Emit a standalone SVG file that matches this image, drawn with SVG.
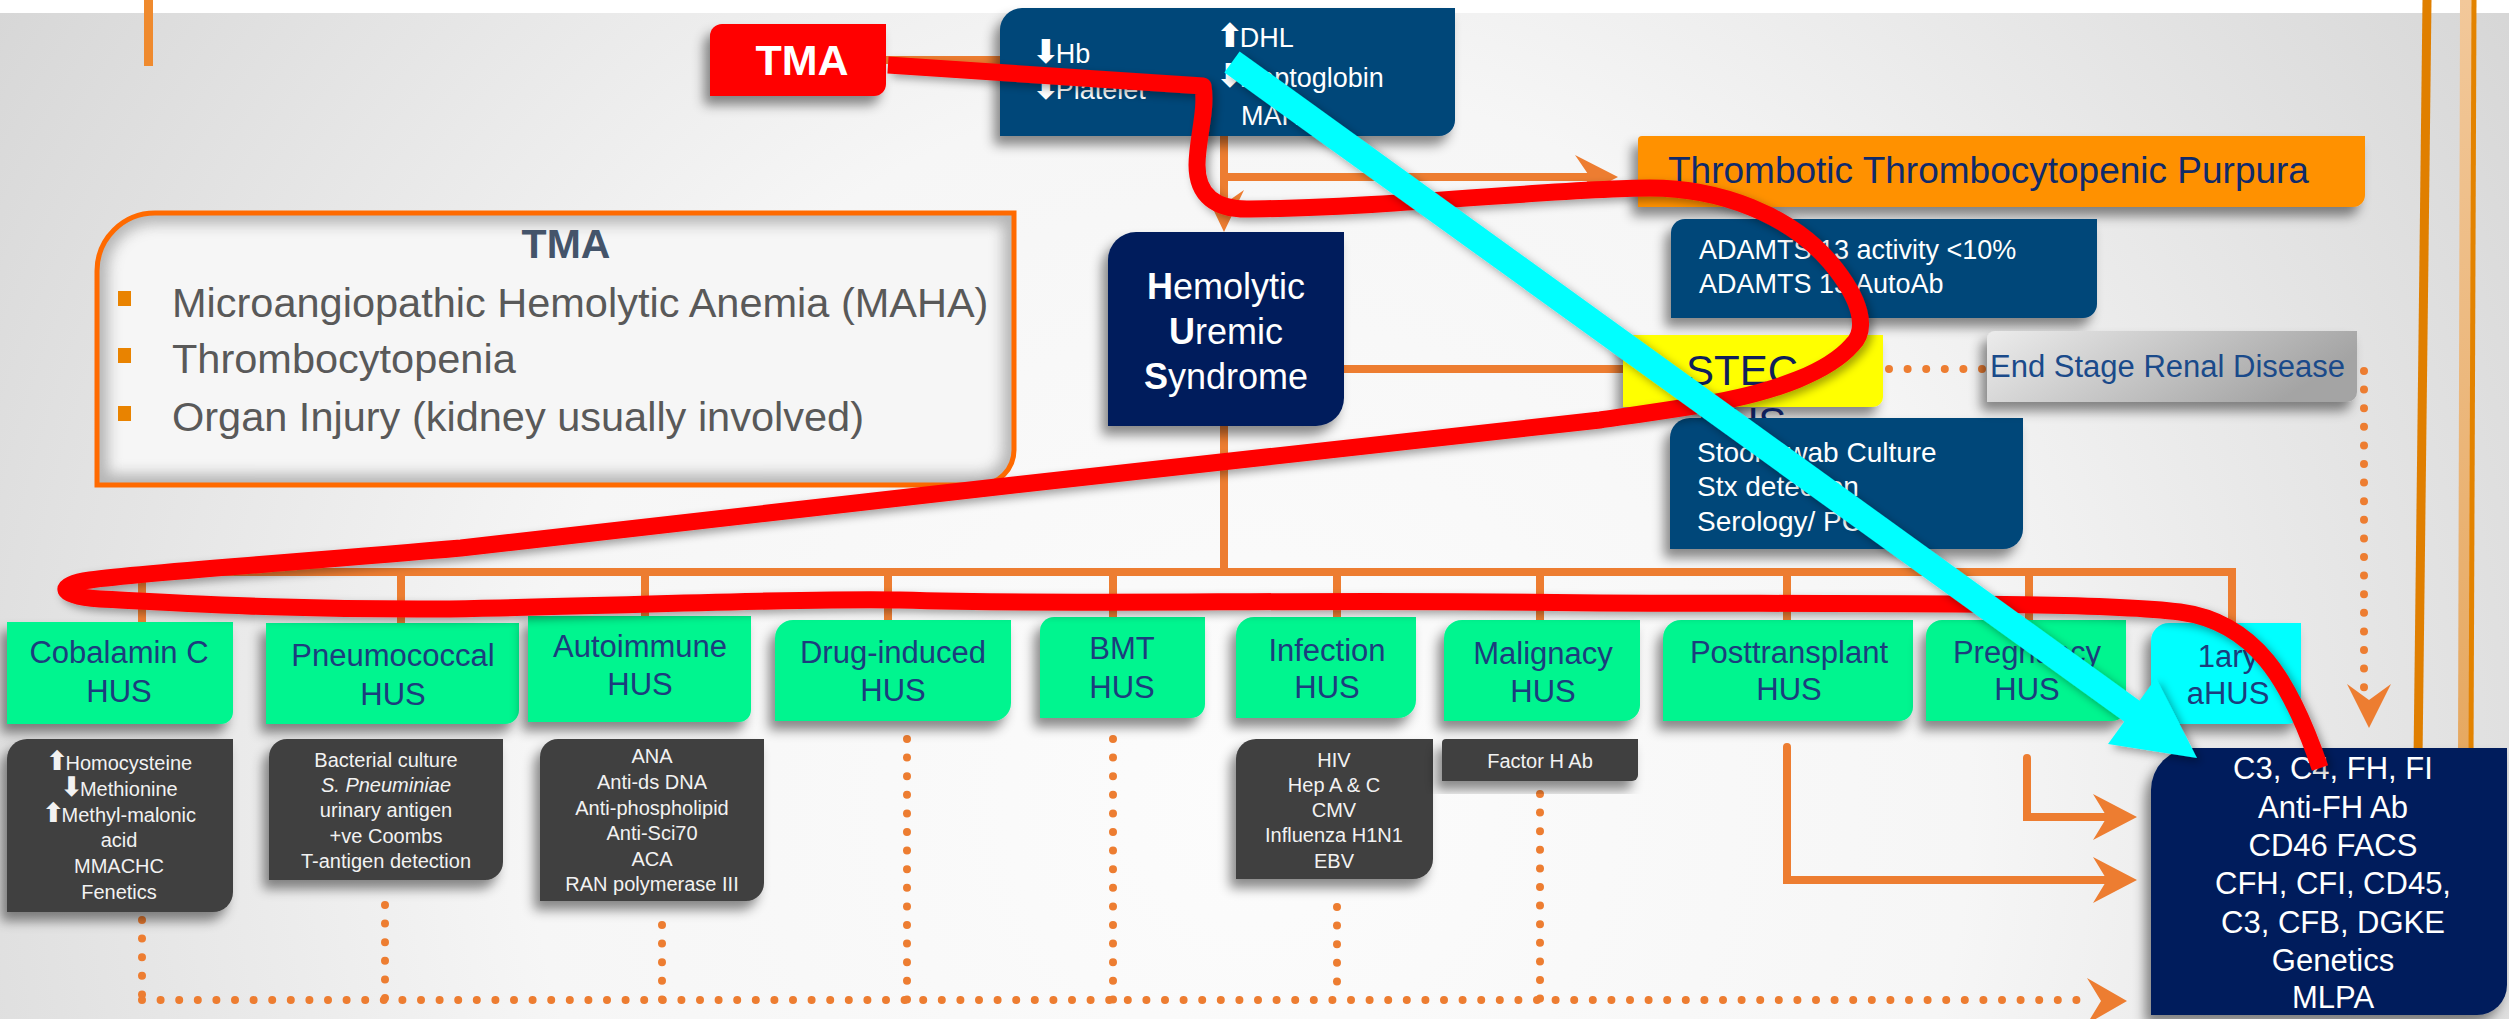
<svg xmlns="http://www.w3.org/2000/svg" width="2509" height="1019" viewBox="0 0 2509 1019">
<defs>
<radialGradient id="bg" gradientUnits="userSpaceOnUse" cx="1250" cy="800" r="1600">
<stop offset="0" stop-color="#fcfcfc"/><stop offset="0.45" stop-color="#f6f6f6"/><stop offset="1" stop-color="#d2d2d2"/>
</radialGradient>
<linearGradient id="esrd" x1="0" y1="0" x2="1" y2="0.3">
<stop offset="0" stop-color="#ececec"/><stop offset="1" stop-color="#a4a4a4"/>
</linearGradient>
<linearGradient id="tan" x1="0" y1="0" x2="0" y2="1">
<stop offset="0" stop-color="#f2c89a"/><stop offset="1" stop-color="#e6a860"/>
</linearGradient>
<filter id="sh" x="-20%" y="-20%" width="140%" height="150%">
<feDropShadow dx="-6" dy="9" stdDeviation="6" flood-color="#000" flood-opacity="0.45"/>
</filter>
<filter id="sh2" x="-10%" y="-10%" width="120%" height="120%">
<feDropShadow dx="4" dy="4" stdDeviation="4" flood-color="#000" flood-opacity="0.35"/>
</filter>
<filter id="blur" x="-10%" y="-10%" width="120%" height="120%"><feGaussianBlur stdDeviation="7"/></filter>
<clipPath id="cpTMA"><path d="M155 213 H1014 V450 A35 35 0 0 1 979 485 H97 V271 A58 58 0 0 1 155 213 Z"/></clipPath>
<style>
.sans{font-family:"Liberation Sans",Arial,sans-serif}
.arr{font-family:"DejaVu Sans",sans-serif;font-weight:bold}
.wire{fill:none;stroke:#ed7d31;stroke-width:8}
.dots{fill:none;stroke:#ed7d31;stroke-width:8;stroke-linecap:round;stroke-dasharray:0 18.6}
.ah{fill:#ed7d31}
.green{fill:#00f58f;filter:url(#sh)}
.gray{fill:#404040;filter:url(#sh)}
.blue{fill:#014679;filter:url(#sh)}
.navy{fill:#001e5c;filter:url(#sh)}
.gt{font-family:"Liberation Sans",Arial,sans-serif;font-size:31px;fill:#1c3d7d;text-anchor:middle}
.dt{font-family:"Liberation Sans",Arial,sans-serif;font-size:20px;fill:#f2f2f2;text-anchor:middle}
.wt{font-family:"Liberation Sans",Arial,sans-serif;fill:#ffffff}
</style>
</defs>

<rect width="2509" height="1019" fill="url(#bg)"/>
<rect width="2509" height="13" fill="#ffffff"/>
<rect x="144" y="0" width="9" height="66" fill="#ef8a2e"/>
<path d="M2427 0 C2424 250, 2420 500, 2418 760" fill="none" stroke="#e07f00" stroke-width="9"/>
<path d="M2467 0 C2466 250, 2465 500, 2465 760" fill="none" stroke="url(#tan)" stroke-width="14"/>
<path d="M2474 0 C2473 250, 2472 500, 2471 760" fill="none" stroke="#e38300" stroke-width="5"/>

<g id="connectors">
<path class="wire" d="M886 60 H1000"/>
<path class="wire" d="M1224 136 V205"/>
<polygon class="ah" points="1224,232 1204,190 1224,204 1244,190"/>
<path class="wire" d="M1224 177 H1590"/>
<polygon class="ah" points="1618,177 1575,155 1590,177 1575,199"/>
<path class="wire" d="M1344 369 H1623"/>
<path class="wire" d="M1224 426 V572"/>
<path class="wire" d="M142 572 H2232 V625"/>
<path class="wire" d="M142 572 V625 M401 572 V625 M645 572 V620 M888 572 V625 M1113 572 V620 M1337 572 V620 M1540 572 V625 M1787 572 V625 M2029 572 V625"/>
<path class="wire" style="stroke-linecap:round" d="M1787 747 V880 H2105"/>
<polygon class="ah" points="2137,880 2093,857 2107,880 2093,903"/>
<path class="wire" style="stroke-linecap:round" d="M2027 758 V817 H2105"/>
<polygon class="ah" points="2137,817 2093,794 2107,817 2093,840"/>
<path class="dots" d="M1889 369 H1985"/>
<path class="dots" d="M2364 371 V690"/>
<polygon class="ah" points="2369,728 2347,684 2369,700 2391,684"/>
<path class="dots" d="M142 920 V1000 M385 905 V1000 M662 925 V1000 M907 739 V1000 M1113 739 V1000 M1337 907 V1000 M1540 794 V1000"/>
<path class="dots" d="M142 1000 H2088"/>
<polygon class="ah" points="2127,1001 2087,978 2101,1001 2087,1024"/>
</g>

<g id="tma-info">
<path d="M155 213 H1014 V450 A35 35 0 0 1 979 485 H97 V271 A58 58 0 0 1 155 213 Z" fill="#f6f6f6"/>
<g clip-path="url(#cpTMA)"><path d="M155 213 H1014 V450 A35 35 0 0 1 979 485 H97 V271 A58 58 0 0 1 155 213 Z" fill="none" stroke="#9a9a9a" stroke-width="22" filter="url(#blur)" opacity="0.7"/></g>
<path d="M155 213 H1014 V450 A35 35 0 0 1 979 485 H97 V271 A58 58 0 0 1 155 213 Z" fill="none" stroke="#ff6a00" stroke-width="5"/>
<text class="sans" x="566" y="258" font-size="41" font-weight="bold" fill="#44546a" text-anchor="middle">TMA</text>
<rect x="118" y="291" width="13" height="15" fill="#e98300"/>
<rect x="118" y="348" width="13" height="15" fill="#e98300"/>
<rect x="118" y="406" width="13" height="15" fill="#e98300"/>
<text class="sans" font-size="41.5" fill="#595959"><tspan x="172" y="317">Microangiopathic Hemolytic Anemia (MAHA)</tspan><tspan x="172" y="373">Thrombocytopenia</tspan><tspan x="172" y="431">Organ Injury (kidney usually involved)</tspan></text>
</g>

<g id="tma">
<path d="M722 24 H886 V84 A12 12 0 0 1 874 96 H710 V36 A12 12 0 0 1 722 24 Z" fill="#ff0000" filter="url(#sh)"/>
<text class="wt" x="802" y="75" font-size="43" font-weight="bold" text-anchor="middle">TMA</text>
</g>

<g id="labs">
<path class="blue" d="M1022 8 H1455 V120 A16 16 0 0 1 1439 136 H1000 V30 A22 22 0 0 1 1022 8 Z"/>
<text class="wt" font-size="27"><tspan x="1032" y="63"><tspan class="arr" font-size="33">⬇</tspan><tspan dx="-4">Hb</tspan></tspan><tspan x="1032" y="99"><tspan class="arr" font-size="33">⬇</tspan><tspan dx="-4">Platelet</tspan></tspan><tspan x="1216" y="47"><tspan class="arr" font-size="33">⬆</tspan><tspan dx="-4">DHL</tspan></tspan><tspan x="1216" y="87"><tspan class="arr" font-size="33">⬇</tspan><tspan dx="-4">Haptoglobin</tspan></tspan><tspan x="1241" y="125">MAHA</tspan></text>
</g>

<g id="ttp">
<path d="M1642 136 H2365 V195 A12 12 0 0 1 2353 207 H1638 V140 A4 4 0 0 1 1642 136 Z" fill="#ff9100" filter="url(#sh)"/>
<text class="sans" x="1668" y="183" font-size="37" fill="#0f2a6b">Thrombotic Thrombocytopenic Purpura</text>
</g>

<g id="adamts">
<path class="blue" d="M1685 219 H2097 V304 A14 14 0 0 1 2083 318 H1671 V233 A14 14 0 0 1 1685 219 Z"/>
<text class="wt" font-size="27"><tspan x="1699" y="259">ADAMTS 13 activity &lt;10%</tspan><tspan x="1699" y="293">ADAMTS 13 AutoAb</tspan></text>
</g>

<g id="hus">
<path class="navy" d="M1136 232 H1344 V398 A28 28 0 0 1 1316 426 H1108 V260 A28 28 0 0 1 1136 232 Z"/>
<text class="wt" font-size="36" text-anchor="middle"><tspan x="1226" y="299"><tspan font-weight="bold">H</tspan>emolytic</tspan><tspan x="1226" y="344"><tspan font-weight="bold">U</tspan>remic</tspan><tspan x="1226" y="389"><tspan font-weight="bold">S</tspan>yndrome</tspan></text>
</g>

<g id="stec">
<path d="M1623 335 H1883 V397 A10 10 0 0 1 1873 407 H1623 Z" fill="#ffff00" filter="url(#sh)"/>
<text class="sans" font-size="42" fill="#0f1f5c" text-anchor="middle"><tspan x="1742" y="385">STEC</tspan><tspan x="1742" y="437">HUS</tspan></text>
</g>

<g id="stool">
<path class="blue" d="M1690 418 H2023 V529 A20 20 0 0 1 2003 549 H1670 V438 A20 20 0 0 1 1690 418 Z"/>
<text class="wt" font-size="28"><tspan x="1697" y="462">Stool Swab Culture</tspan><tspan x="1697" y="496">Stx detection</tspan><tspan x="1697" y="531">Serology/ PCR</tspan></text>
</g>

<g id="esrd">
<path d="M1995 331 H2357 V392 A10 10 0 0 1 2347 402 H1987 V339 A8 8 0 0 1 1995 331 Z" fill="url(#esrd)" filter="url(#sh)"/>
<text class="sans" x="1990" y="377" font-size="31" fill="#1a4a8a">End Stage Renal Disease</text>
</g>

<g id="cobalamin">
<path class="green" d="M7 622 H233 V712 A12 12 0 0 1 221 724 H7 Z"/>
<text class="gt"><tspan x="119" y="663">Cobalamin C</tspan><tspan x="119" y="702">HUS</tspan></text>
<path class="gray" d="M27 739 H233 V892 A20 20 0 0 1 213 912 H7 V759 A20 20 0 0 1 27 739 Z"/>
<text class="dt"><tspan x="119" y="770"><tspan class="arr" font-size="27">⬆</tspan><tspan dx="-3">Homocysteine</tspan></tspan><tspan x="119" y="796"><tspan class="arr" font-size="27">⬇</tspan><tspan dx="-3">Methionine</tspan></tspan><tspan x="119" y="822"><tspan class="arr" font-size="27">⬆</tspan><tspan dx="-3">Methyl-malonic</tspan></tspan><tspan x="119" y="847">acid</tspan><tspan x="119" y="873">MMACHC</tspan><tspan x="119" y="899">Fenetics</tspan></text>
</g>

<g id="pneumococcal">
<path class="green" d="M266 623 H519 V710 A14 14 0 0 1 505 724 H266 Z"/>
<text class="gt"><tspan x="393" y="666">Pneumococcal</tspan><tspan x="393" y="705">HUS</tspan></text>
<path class="gray" d="M287 739 H503 V862 A18 18 0 0 1 485 880 H269 V757 A18 18 0 0 1 287 739 Z"/>
<text class="dt"><tspan x="386" y="767">Bacterial culture</tspan><tspan x="386" y="792" font-style="italic">S. Pneuminiae</tspan><tspan x="386" y="817">urinary antigen</tspan><tspan x="386" y="843">+ve Coombs</tspan><tspan x="386" y="868">T-antigen detection</tspan></text>
</g>

<g id="autoimmune">
<path class="green" d="M528 616 H751 V710 A12 12 0 0 1 739 722 H528 Z"/>
<text class="gt"><tspan x="640" y="657">Autoimmune</tspan><tspan x="640" y="695">HUS</tspan></text>
<path class="gray" d="M558 739 H764 V883 A18 18 0 0 1 746 901 H540 V757 A18 18 0 0 1 558 739 Z"/>
<text class="dt" font-size="19"><tspan x="652" y="763">ANA</tspan><tspan x="652" y="789">Anti-ds DNA</tspan><tspan x="652" y="815">Anti-phospholipid</tspan><tspan x="652" y="840">Anti-Sci70</tspan><tspan x="652" y="866">ACA</tspan><tspan x="652" y="891">RAN polymerase III</tspan></text>
</g>

<g id="drug">
<path class="green" d="M793 620 H1011 V703 A18 18 0 0 1 993 721 H775 V638 A18 18 0 0 1 793 620 Z"/>
<text class="gt" font-size="29.5"><tspan x="893" y="663">Drug-induced</tspan><tspan x="893" y="701" font-size="31">HUS</tspan></text>
</g>

<g id="bmt">
<path class="green" d="M1054 617 H1205 V704 A14 14 0 0 1 1191 718 H1040 V631 A14 14 0 0 1 1054 617 Z"/>
<text class="gt"><tspan x="1122" y="659">BMT</tspan><tspan x="1122" y="698">HUS</tspan></text>
</g>

<g id="infection">
<path class="green" d="M1254 617 H1416 V700 A18 18 0 0 1 1398 718 H1236 V635 A18 18 0 0 1 1254 617 Z"/>
<text class="gt"><tspan x="1327" y="661">Infection</tspan><tspan x="1327" y="698">HUS</tspan></text>
<path class="gray" d="M1256 739 H1433 V859 A20 20 0 0 1 1413 879 H1236 V759 A20 20 0 0 1 1256 739 Z"/>
<text class="dt"><tspan x="1334" y="767">HIV</tspan><tspan x="1334" y="792">Hep A &amp; C</tspan><tspan x="1334" y="817">CMV</tspan><tspan x="1334" y="842">Influenza H1N1</tspan><tspan x="1334" y="868">EBV</tspan></text>
</g>

<g id="malignacy">
<path class="green" d="M1462 620 H1640 V705 A16 16 0 0 1 1624 721 H1444 V638 A18 18 0 0 1 1462 620 Z"/>
<text class="gt"><tspan x="1543" y="664">Malignacy</tspan><tspan x="1543" y="702">HUS</tspan></text>
<path class="gray" d="M1446 739 H1638 V775 A6 6 0 0 1 1632 781 H1442 V743 A4 4 0 0 1 1446 739 Z"/>
<text class="dt" x="1540" y="768" font-size="20.5">Factor H Ab</text>
</g>

<g id="posttransplant">
<path class="green" d="M1681 620 H1913 V707 A14 14 0 0 1 1899 721 H1663 V638 A18 18 0 0 1 1681 620 Z"/>
<text class="gt" font-size="29.5"><tspan x="1789" y="663">Posttransplant</tspan><tspan x="1789" y="700" font-size="31">HUS</tspan></text>
</g>

<g id="pregnancy">
<path class="green" d="M1942 620 H2126 V707 A14 14 0 0 1 2112 721 H1926 V636 A16 16 0 0 1 1942 620 Z"/>
<text class="gt"><tspan x="2027" y="663">Pregnancy</tspan><tspan x="2027" y="700">HUS</tspan></text>
</g>

<g id="ahus">
<path d="M2169 623 H2301 V710 A14 14 0 0 1 2287 724 H2151 V641 A18 18 0 0 1 2169 623 Z" fill="#00ffff" filter="url(#sh)"/>
<text class="gt"><tspan x="2228" y="667">1ary</tspan><tspan x="2228" y="704">aHUS</tspan></text>
</g>

<g id="workup">
<path class="navy" d="M2193 748 H2507 V985 A30 30 0 0 1 2477 1015 H2151 V790 A42 42 0 0 1 2193 748 Z"/>
<text class="wt" font-size="31" text-anchor="middle"><tspan x="2333" y="779">C3, C4, FH, FI</tspan><tspan x="2333" y="818">Anti-FH Ab</tspan><tspan x="2333" y="856">CD46 FACS</tspan><tspan x="2333" y="894">CFH, CFI, CD45,</tspan><tspan x="2333" y="933">C3, CFB, DGKE</tspan><tspan x="2333" y="971">Genetics</tspan><tspan x="2333" y="1008">MLPA</tspan></text>
</g>

<g id="annotations">
<path d="M888 65 L1203 86 C1207 110, 1197 140, 1197 165 C1197 195, 1215 210, 1250 209 C1400 207, 1560 188, 1650 188 C1720 188, 1790 215, 1830 262 C1862 300, 1868 330, 1852 345 C1830 370, 1780 392, 1700 405 C1650 413, 1620 417, 1600 420 L1014 485 L461 548 C300 562, 150 572, 90 580 C55 585, 58 596, 100 599 C200 604, 300 610, 450 609 C650 605, 800 598, 900 600 C1100 606, 1300 598, 1600 603 C1900 604, 2100 602, 2180 612 C2255 622, 2290 680, 2320 768" fill="none" stroke="#ff0000" stroke-width="17" stroke-linejoin="round" filter="url(#sh2)"/>
<g filter="url(#sh2)">
<path d="M1232 62 L2140 717" fill="none" stroke="#00ffff" stroke-width="26"/>
<polygon points="2197,758 2108,744 2156,678" fill="#00ffff"/>
</g>
</g>
</svg>
